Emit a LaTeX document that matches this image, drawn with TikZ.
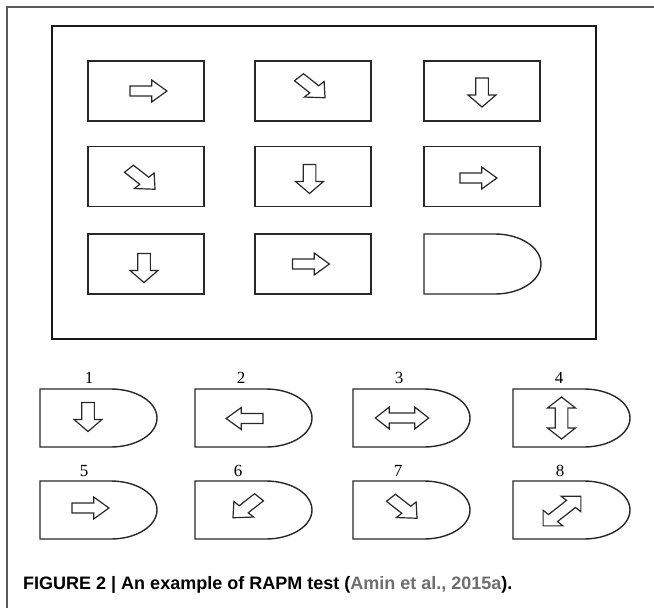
\documentclass[tikz,border=0pt]{standalone}
\usepackage{fontspec}
\setmainfont{Liberation Serif}
\newfontfamily\capfont{Liberation Sans}
\usepackage{tikz}
\usetikzlibrary{positioning}
\usepackage{xcolor}
\definecolor{pagegray}{RGB}{90,90,90}
\definecolor{linegray}{RGB}{40,40,40}
\definecolor{citegray}{RGB}{110,110,110}
\tikzstyle{cell} = [draw=linegray, line width=1.6pt, minimum width=116pt, minimum height=60pt, inner sep=0pt]
\tikzstyle{optline} = [draw=linegray, line width=1.4pt]
\tikzstyle{blockarrow} = [draw=linegray, line width=1.2pt, line join=miter]
\tikzstyle{optlabel} = [font=\fontsize{17}{17}\selectfont, inner sep=0pt]

% one-headed block arrow: x, y, angle
\newcommand{\singlearrow}[3]{%
  \draw[blockarrow, shift={(#1,#2)}, xscale=1.27, rotate=#3]
    (-14.5,-5) -- (2.5,-5) -- (2.5,-11) -- (14.5,0) -- (2.5,11) -- (2.5,5) -- (-14.5,5) -- cycle;}
% two-headed block arrow: x, y, angle
\newcommand{\doublearrow}[3]{%
  \draw[blockarrow, shift={(#1,#2)}, xscale=1.27, rotate=#3]
    (-21,0) -- (-10,11) -- (-10,5) -- (10,5) -- (10,11) -- (21,0) -- (10,-11) -- (10,-5) -- (-10,-5) -- (-10,-11) -- cycle;}
% answer shape: left, top, height
\newcommand{\optshape}[3]{%
  \draw[optline] ({#1+71},#2) .. controls ({#1+96.4},#2) and ({#1+117},{#2+0.2239*#3}) .. ({#1+117},{#2+0.5*#3})
    .. controls ({#1+117},{#2+0.7761*#3}) and ({#1+96.4},{#2+#3}) .. ({#1+71},{#2+#3})
    -- (#1,{#2+#3}) -- (#1,#2) -- cycle;}

\begin{document}
\begin{tikzpicture}[x=1pt, y=-1pt]
\useasboundingbox (0,0) rectangle (654,608);

% page frame
\draw[pagegray, line width=1.3pt] (654,7) -- (7,7) -- (7,608);

% matrix box
\draw[black!90, line width=1.8pt] (52,26) rectangle (596,339);

% cells of the matrix
\node[cell] (c11) at (146,91) {};
\node[cell] (c12) at (313,91) {};
\node[cell] (c13) at (482,91) {};
\node[cell] (c21) at (146,176.5) {};
\node[cell] (c22) at (313,176.5) {};
\node[cell] (c23) at (482,176.5) {};
\node[cell] (c31) at (146,264) {};
\node[cell] (c32) at (313,264) {};

% missing cell
\optshape{424}{234}{60}

% arrows in the matrix
\singlearrow{148.5}{91}{0}
\singlearrow{312}{87.5}{-45}
\singlearrow{482}{92.5}{-90}
\singlearrow{142}{179}{-45}
\singlearrow{309.5}{179}{-90}
\singlearrow{478.5}{178}{0}
\singlearrow{144}{268}{-90}
\singlearrow{311}{264}{0}

% answers 1-4
\optshape{40}{389}{58}
\optshape{195}{389}{58}
\optshape{353}{389}{58}
\optshape{513}{389}{58}
\node[optlabel] (n1) at (89,378) {1};
\node[optlabel] (n2) at (241,378) {2};
\node[optlabel] (n3) at (399,378) {3};
\node[optlabel] (n4) at (559,378) {4};
\singlearrow{88}{417}{-90}
\singlearrow{244.5}{418.5}{180}
\doublearrow{402}{418}{0}
\doublearrow{561.5}{418}{90}

% answers 5-8
\optshape{40}{481}{58}
\optshape{195}{481}{58}
\optshape{353}{481}{58}
\optshape{513}{481}{58}
\node[optlabel] (n5) at (84,471) {5};
\node[optlabel] (n6) at (238,471) {6};
\node[optlabel] (n7) at (398,471) {7};
\node[optlabel] (n8) at (560,471) {8};
\singlearrow{90.5}{508}{0}
\singlearrow{246}{507.5}{-135}
\singlearrow{404}{508}{-45}
\doublearrow{562}{511}{45}

% caption
\node[anchor=west, inner sep=0pt, font=\capfont\bfseries\fontsize{18}{18}\selectfont] (caption) at (23,585)
  {FIGURE 2 | An example of RAPM test ({\color{citegray}Amin et al., 2015a}).};
\end{tikzpicture}
\end{document}
